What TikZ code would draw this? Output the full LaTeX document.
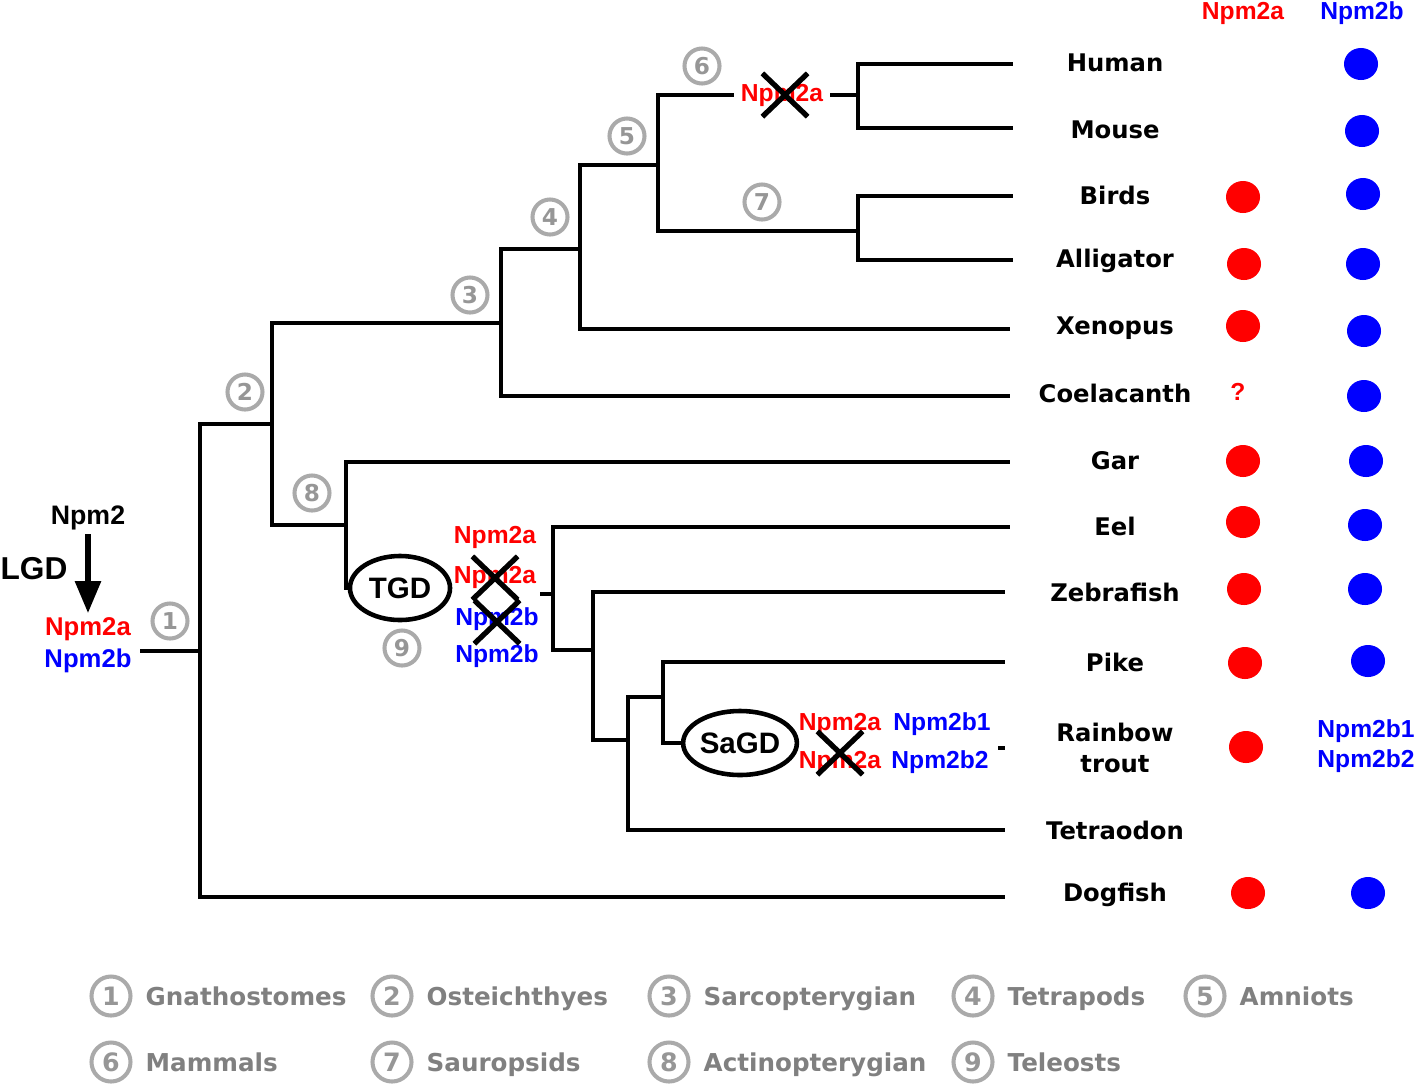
\documentclass[tikz,border=0pt]{standalone}
\usepackage{fontspec}
\usepackage{xcolor}
\usepackage{tikz}
\usetikzlibrary{shapes.geometric, shapes.misc, arrows.meta, calc}
\newfontfamily\genefont{Liberation Sans}
\newfontfamily\taxfont{DejaVu Sans}
\definecolor{npmred}{RGB}{255,0,0}
\definecolor{npmblue}{RGB}{0,0,255}
\definecolor{ringgray}{RGB}{170,170,170}
\definecolor{numgray}{RGB}{150,150,150}
\definecolor{leggray}{RGB}{128,128,128}
\tikzset{
    branch/.style = {line width=1.35pt},
    gA/.style = {text=npmred, font=\genefont\bfseries\fontsize{7}{8.4}\selectfont, inner sep=1pt},
    gB/.style = {text=npmblue, font=\genefont\bfseries\fontsize{7}{8.4}\selectfont, inner sep=1pt},
    taxon/.style = {font=\taxfont\bfseries\fontsize{6.9}{8.6}\selectfont, align=center, inner sep=1pt},
    badge/.style = {circle, draw=ringgray, line width=1.15pt, text=numgray, inner sep=0pt,
        minimum size=0.35cm, font=\taxfont\bfseries\fontsize{6.6}{7}\selectfont},
    wgd/.style = {ellipse, draw, line width=1.3pt, inner sep=0pt, minimum width=1cm,
        minimum height=0.64cm, font=\genefont\bfseries\fontsize{8.4}{9}\selectfont},
    lost/.style = {cross out, draw, line width=1.5pt, inner sep=0pt, minimum width=0.4cm, minimum height=0.38cm},
    reddot/.style = {ellipse, fill=npmred, inner sep=0pt, minimum width=0.34cm, minimum height=0.32cm},
    bluedot/.style = {ellipse, fill=npmblue, inner sep=0pt, minimum width=0.34cm, minimum height=0.32cm},
    pics/legitem/.style 2 args = {
        code = {%
        \node[badge, minimum size=0.39cm, font=\taxfont\bfseries\fontsize{7.2}{8}\selectfont] (-c) at (0,0) {#1};
        \node[anchor=base west, text=leggray, font=\taxfont\bfseries\fontsize{7}{8}\selectfont, inner sep=0pt] (-t) at (34,9) {#2};
        }
    },
}
\begin{document}
\begin{tikzpicture}[x=0.01cm, y=-0.01cm]
\useasboundingbox (0,0) rectangle (1418,1087);

\node[font=\genefont\bfseries\fontsize{7.6}{8}\selectfont, inner sep=1pt] (npm2) at (88,518) {Npm2};
\node[font=\genefont\bfseries\fontsize{9}{10}\selectfont, inner sep=0pt] (lgd) at (34,569) {LGD};
\node[gA, font=\genefont\bfseries\fontsize{7.3}{8}\selectfont] (lgda) at (88,629) {Npm2a};
\node[gB, font=\genefont\bfseries\fontsize{7.3}{8}\selectfont] (lgdb) at (88,661) {Npm2b};
\draw[line width=1.6pt, -{Triangle[length=0.32cm, width=0.25cm]}] (npm2.south) -- (lgda.north);

\coordinate (stem) at (140,651);
\coordinate (n1) at (200,651);
\coordinate (n2) at (272,424);
\coordinate (n3) at (501,323);
\coordinate (n4) at (580,249);
\coordinate (n5) at (658,165);
\coordinate (n6) at (858,95);
\coordinate (n7) at (858,231);
\coordinate (n8) at (346,525);
\coordinate (n9) at (553,594);
\coordinate (n10) at (593,650);
\coordinate (n11) at (628,740);
\coordinate (n12) at (663,697);

\coordinate (human) at (1013,64);
\coordinate (mouse) at (1013,128);
\coordinate (birds) at (1013,196);
\coordinate (alli) at (1013,260);
\coordinate (xeno) at (1010,329);
\coordinate (coel) at (1010,396);
\coordinate (gar) at (1010,462);
\coordinate (eel) at (1010,527);
\coordinate (zebra) at (1005,592);
\coordinate (pike) at (1005,662);
\coordinate (trout) at (1005,748);
\coordinate (tetra) at (1005,830);
\coordinate (dog) at (1005,897);

\node[wgd] (tgd) at (400,588) {TGD};
\node[wgd] (sagd) at (740,743) {SaGD};
\node[gA] (loss6) at (782,95) {Npm2a};
\node[lost] (x6) at (785,95) {};

\draw[branch] (stem) -- (n1);
\draw[branch] (n1) |- (n2);
\draw[branch] (n1) |- (dog);
\draw[branch] (n2) |- (n3);
\draw[branch] (n2) |- (n8);
\draw[branch] (n3) |- (n4);
\draw[branch] (n3) |- (coel);
\draw[branch] (n4) |- (n5);
\draw[branch] (n4) |- (xeno);
\draw[branch] (n5) |- ($(loss6.west)+(-3,0)$);
\draw[branch] ($(loss6.east)+(3,0)$) -- (n6);
\draw[branch] (n5) |- (n7);
\draw[branch] (n6) |- (human);
\draw[branch] (n6) |- (mouse);
\draw[branch] (n7) |- (birds);
\draw[branch] (n7) |- (alli);
\draw[branch] (n8) |- (gar);
\draw[branch] (n8) -- (n8 |- tgd.west) -- (tgd.west);
\draw[branch] ($(n9)+(-13,0)$) -- (n9);
\draw[branch] (n9) |- (eel);
\draw[branch] (n9) |- (n10);
\draw[branch] (n10) |- (zebra);
\draw[branch] (n10) |- (n11);
\draw[branch] (n11) |- (tetra);
\draw[branch] (n11) |- (n12);
\draw[branch] (n12) |- (pike);
\draw[branch] (n12) |- (sagd.west);
\draw[branch] ($(trout)+(-7,0)$) -- (trout);

\node[gA] (tgda1) at (495,537) {Npm2a};
\node[gA] (tgda2) at (495,577) {Npm2a};
\node[gB] (tgdb1) at (497,619) {Npm2b};
\node[gB] (tgdb2) at (497,656) {Npm2b};
\node[lost] (xa) at (495,578) {};
\node[lost] (xb) at (497,622) {};

\node[gA] (sagda1) at (840,724) {Npm2a};
\node[gB] (sagdb1) at (942,724) {Npm2b1};
\node[gA] (sagda2) at (840,762) {Npm2a};
\node[gB] (sagdb2) at (940,762) {Npm2b2};
\node[lost] (xs) at (840,753) {};

\node[badge] (b1) at (170,621) {1};
\node[badge] (b2) at (245,392) {2};
\node[badge] (b3) at (470,295) {3};
\node[badge] (b4) at (550,217) {4};
\node[badge] (b5) at (627,136) {5};
\node[badge] (b6) at (702,66) {6};
\node[badge] (b7) at (762,202) {7};
\node[badge] (b8) at (312,493) {8};
\node[badge] (b9) at (402,648) {9};

\node[taxon] (thuman) at (1115,63) {Human};
\node[taxon] (tmouse) at (1115,130) {Mouse};
\node[taxon] (tbirds) at (1115,195) {Birds};
\node[taxon] (talli) at (1115,261) {Alligator};
\node[taxon] (txeno) at (1115,328) {Xenopus};
\node[taxon] (tcoel) at (1115,393) {Coelacanth};
\node[taxon] (tgar) at (1115,461) {Gar};
\node[taxon] (teel) at (1115,526) {Eel};
\node[taxon] (tzebra) at (1115,592) {Zebrafish};
\node[taxon] (tpike) at (1115,662) {Pike};
\node[taxon, font=\taxfont\bfseries\fontsize{6.9}{8.8}\selectfont] (ttrout) at (1115,748) {Rainbow\\trout};
\node[taxon] (ttetra) at (1115,830) {Tetraodon};
\node[taxon] (tdog) at (1115,895) {Dogfish};

\node[gA] (heada) at (1243,13) {Npm2a};
\node[gB] (headb) at (1362,13) {Npm2b};

\node[reddot] (rbirds) at (1243,197) {};
\node[reddot] (ralli) at (1244,264) {};
\node[reddot] (rxeno) at (1243,326) {};
\node[gA] (rcoel) at (1238,392) {?};
\node[reddot] (rgar) at (1243,461) {};
\node[reddot] (reel) at (1243,522) {};
\node[reddot] (rzebra) at (1244,589) {};
\node[reddot] (rpike) at (1245,663) {};
\node[reddot] (rtrout) at (1246,747) {};
\node[reddot] (rdog) at (1248,893) {};

\node[bluedot] (bhuman) at (1361,64) {};
\node[bluedot] (bmouse) at (1362,131) {};
\node[bluedot] (bbirds) at (1363,194) {};
\node[bluedot] (balli) at (1363,264) {};
\node[bluedot] (bxeno) at (1364,331) {};
\node[bluedot] (bcoel) at (1364,396) {};
\node[bluedot] (bgar) at (1366,461) {};
\node[bluedot] (beel) at (1365,525) {};
\node[bluedot] (bzebra) at (1365,589) {};
\node[bluedot] (bpike) at (1368,661) {};
\node[gB, align=center, font=\genefont\bfseries\fontsize{7}{8.5}\selectfont] (btrout) at (1366,746) {Npm2b1\\Npm2b2};
\node[bluedot] (bdog) at (1368,893) {};

\pic (L1) at (111,996) {legitem={1}{Gnathostomes}};
\pic (L2) at (392,996) {legitem={2}{Osteichthyes}};
\pic (L3) at (669,996) {legitem={3}{Sarcopterygian}};
\pic (L4) at (973,996) {legitem={4}{Tetrapods}};
\pic (L5) at (1205,996) {legitem={5}{Amniots}};
\pic (L6) at (111,1062) {legitem={6}{Mammals}};
\pic (L7) at (392,1062) {legitem={7}{Sauropsids}};
\pic (L8) at (669,1062) {legitem={8}{Actinopterygian}};
\pic (L9) at (973,1062) {legitem={9}{Teleosts}};
\end{tikzpicture}
\end{document}
